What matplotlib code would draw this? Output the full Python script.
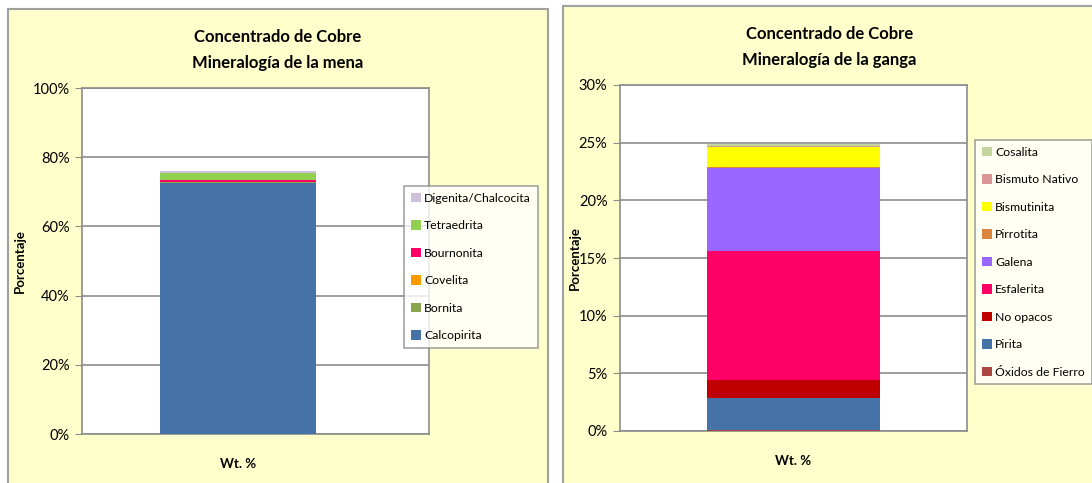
import matplotlib.pyplot as plt
from matplotlib.patches import Rectangle, Patch
from matplotlib.ticker import FuncFormatter

# Ore minerals (copper concentrate), % by weight, bottom to top
mena_names = ["Calcopirita", "Bornita", "Covelita", "Bournonita", "Tetraedrita", "Digenita/Chalcocita"]
mena_vals = [72.6, 0.25, 0.05, 0.4, 2.0, 0.6]
mena_colors = ["#4572A7", "#89A54E", "#FF9900", "#FF0066", "#92D050", "#CCC0DA"]

# Gangue minerals, % by weight, bottom to top
ganga_names = ["Óxidos de Fierro", "Pirita", "No opacos", "Esfalerita", "Galena",
               "Pirrotita", "Bismutinita", "Bismuto Nativo", "Cosalita"]
ganga_vals = [0.1, 2.75, 1.55, 11.2, 7.2, 0.1, 1.75, 0.02, 0.23]
ganga_colors = ["#AA4643", "#4572A7", "#C00000", "#FF0066", "#9966FF",
                "#DB843D", "#FFFF00", "#D99694", "#C3D69B"]

W, H = 1092, 483
plt.rcParams["font.family"] = ["Lato", "DejaVu Sans"]

fig = plt.figure(figsize=(W / 100, H / 100), dpi=100)
fig.patch.set_facecolor("white")


def px_rect(x0, y0, x1, y1):
    # pixel box (top-left origin) -> figure fraction [l, b, w, h]
    return [x0 / W, 1 - y1 / H, (x1 - x0) / W, (y1 - y0) / H]


def panel(box, ax_box, title, names, vals, colors, ymax, ystep,
          bar_x, bar_w, leg_anchor, leg_space, title_y, ylab_x):
    l, b, w, h = px_rect(*box)
    fig.patches.append(Rectangle((l, b), w, h, transform=fig.transFigure,
                                 facecolor="#FFFFCC", edgecolor="#A0A0A0", lw=1.5, zorder=-5))
    ax = fig.add_axes(px_rect(*ax_box))
    ax.set_zorder(2)
    ax.set_facecolor("white")
    bottom = 0
    for name, v, c in zip(names, vals, colors):
        ax.bar(bar_x, v, bottom=bottom, width=bar_w, color=c, label=name, zorder=3)
        bottom += v
    ax.set_xlim(-0.5, 0.5)
    ax.set_ylim(0, ymax)
    ax.set_yticks([i * ystep for i in range(int(round(ymax / ystep)) + 1)])
    ax.yaxis.set_major_formatter(FuncFormatter(lambda v, p: f"{v:.0f}%"))
    ax.set_xticks([])
    ax.grid(axis="y", color="#8C8C8C", lw=1.2, zorder=1)
    for s in ax.spines.values():
        s.set_color("#8C8C8C")
        s.set_linewidth(1.2)
    ax.tick_params(axis="y", length=5, color="#8C8C8C", labelsize=10.5, pad=4)
    ax.set_xlabel("Wt. %", fontsize=9.5, fontweight="bold")
    ax.xaxis.set_label_coords(bar_x + 0.5, -0.07)
    fig.text(ylab_x / W, 1 - (ax_box[1] + ax_box[3]) / 2 / H, "Porcentaje", rotation=90,
             fontsize=9.5, fontweight="bold", ha="center", va="center")
    fig.text((box[0] + box[2]) / 2 / W, 1 - title_y / H, title, ha="center", va="center",
             fontsize=12, fontweight="bold", linespacing=1.75)
    handles = [Patch(facecolor=c, edgecolor="none", label=n)
               for n, c in zip(names, colors)][::-1]
    leg = fig.legend(handles=handles, loc="upper left",
                     bbox_to_anchor=(leg_anchor[0] / W, 1 - leg_anchor[1] / H),
                     frameon=True, fancybox=False, edgecolor="#8C8C8C", facecolor="white",
                     fontsize=8.8, handlelength=0.8, handleheight=0.8,
                     handletextpad=0.3, labelspacing=leg_space, borderpad=0.55,
                     borderaxespad=0)
    leg.get_frame().set_linewidth(1.2)
    return ax


panel((8, 9, 548, 490), (82, 88, 429, 434), "Concentrado de Cobre\nMineralogía de la mena",
      mena_names, mena_vals, mena_colors, 100, 20, -0.05, 0.45, (404, 186), 1.35, 50, 20)
panel((563, 6, 1096, 490), (620, 85, 967, 431), "Concentrado de Cobre\nMineralogía de la ganga",
      ganga_names, ganga_vals, ganga_colors, 30, 5, 0.0, 0.5, (975, 140), 1.35, 47, 575)

fig.savefig("out.png", dpi=100)
